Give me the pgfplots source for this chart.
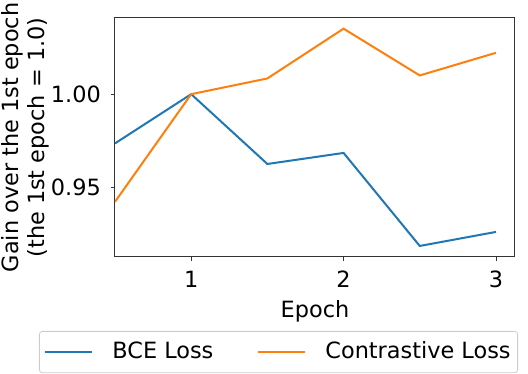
\documentclass[border=0pt]{standalone}
\usepackage{fontspec}
\setmainfont{DejaVu Sans}
\usepackage{pgfplots}
\pgfplotsset{compat=1.18}
\definecolor{tabblue}{HTML}{1F77B4}
\definecolor{taborange}{HTML}{FF7F0E}
\begin{document}
\fontsize{22.4}{26}\selectfont
\begin{tikzpicture}
\begin{axis}[
  name=ax,
  scale only axis, width=400pt, height=239pt,
  xmin=0.5, xmax=3.125, ymin=0.913, ymax=1.0407,
  xtick={1,2,3}, ytick={0.95,1.00},
  /pgf/number format/assume math mode=true,
  tick align=outside, tick pos=left, major tick length=4pt,
  every tick/.style={black!80, line width=0.9pt},
  axis line style={line width=1pt, black!80},
  xticklabel style={inner sep=0pt, yshift=-10pt},
  yticklabel style={inner sep=0pt, xshift=-10pt, /pgf/number format/.cd, fixed, fixed zerofill, precision=2},
  xlabel style={inner sep=0pt, yshift=-12.5pt},
  xlabel={Epoch}, ylabel={Gain over the 1st epoch\\(the 1st epoch = 1.0)},
  ylabel shift=1.5pt,
  ylabel style={align=center, inner sep=0pt, font=\fontsize{22.4}{26}\selectfont},
  label style={font=\fontsize{22.4}{26}\selectfont},
  tick label style={font=\fontsize{22.4}{26}\selectfont},
  legend style={at={(-0.19,-0.3096)}, anchor=north west, legend columns=2,
    draw=black!20, rounded corners=3pt, line width=0.8pt,
    font=\fontsize{22.4}{26}\selectfont, inner xsep=5pt, inner ysep=8.5pt,
    /tikz/every odd column/.append style={column sep=17pt},
    /tikz/every even column/.append style={column sep=42pt}},
  legend image code/.code={\draw[#1] (0pt,0pt) -- (47pt,0pt);},
]
\addplot[tabblue, line width=2pt] coordinates {(0.5,0.9737) (1,1.0) (1.5,0.9627) (2,0.9686) (2.5,0.9189) (3,0.9264)};
\addlegendentry{BCE Loss}
\addplot[taborange, line width=2pt] coordinates {(0.5,0.9425) (1,1.0) (1.5,1.0084) (2,1.035) (2.5,1.0100) (3,1.0221)};
\addlegendentry{Contrastive Loss}
\end{axis}
\pgfresetboundingbox
\path ([shift={(-115pt,-117pt)}]ax.south west) rectangle ([shift={(13pt,18pt)}]ax.north east);
\end{tikzpicture}
\end{document}
